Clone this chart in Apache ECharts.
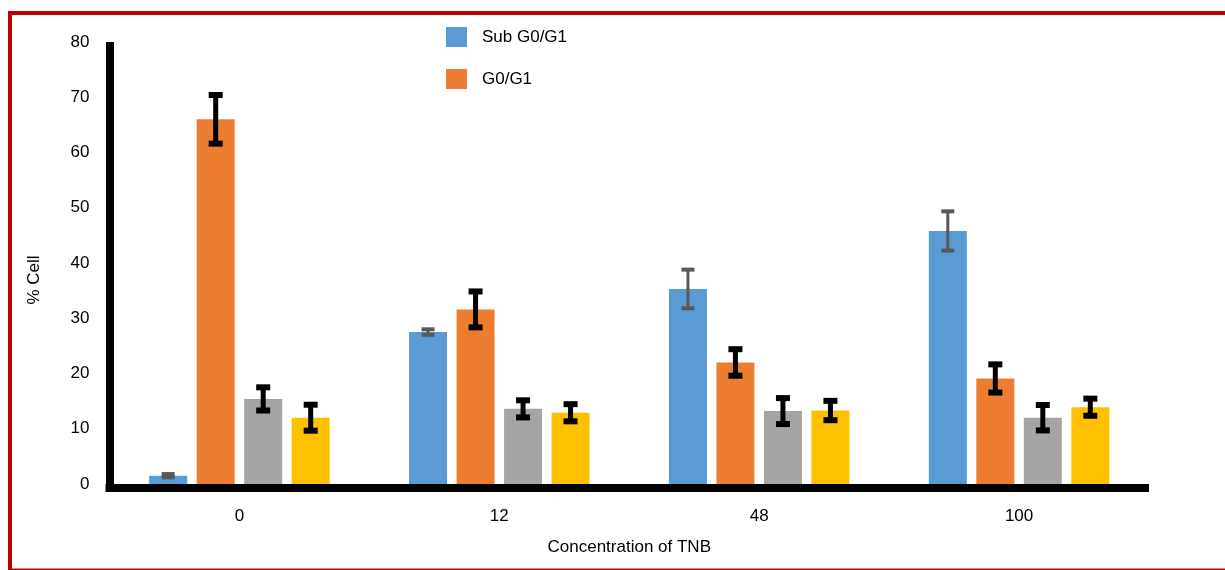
<!DOCTYPE html>
<html>
<head>
<meta charset="utf-8">
<script src="https://cdn.jsdelivr.net/npm/echarts@6/dist/echarts.min.js"></script>
<style>
html,body{margin:0;padding:0;background:#fff;}
#chart{width:1225px;height:570px;}
</style>
</head>
<body>
<div id="chart"></div>
<script>
// ---- data ----
const categories = ['0', '12', '48', '100'];
const seriesNames = ['Sub G0/G1', 'G0/G1', 'S', 'G2/M'];
const subG0G1 = [1.5, 27.5, 35.3, 45.8];
const subG0G1Err = [0.3, 0.5, 3.5, 3.55];
const g0G1 = [66.0, 31.6, 22.0, 19.1];
const g0G1Err = [4.4, 3.25, 2.4, 2.55];
const sPhase = [15.4, 13.6, 13.2, 12.0];
const sPhaseErr = [2.1, 1.55, 2.35, 2.3];
const g2M = [12.0, 12.9, 13.3, 13.9];
const g2MErr = [2.35, 1.55, 1.75, 1.55];
const yTicks = { min: 0, max: 80, interval: 10 };

// ---- style ----
const FONT = 'Liberation Sans, Arial, sans-serif';
const colors = ['#5B9BD5', '#ED7D31', '#A5A5A5', '#FFC000'];
const BAR_W = 38;
const BAR_GAP = 0.25;
const STEP = BAR_W * (1 + BAR_GAP);

const values = [subG0G1, g0G1, sPhase, g2M];
const errs = [subG0G1Err, g0G1Err, sPhaseErr, g2MErr];
const errStyle = [
  { color: '#595959', lw: 3, capW: 13, capH: 4 },
  { color: '#000000', lw: 5, capW: 14, capH: 6 },
  { color: '#000000', lw: 5, capW: 14, capH: 6 },
  { color: '#000000', lw: 5, capW: 14, capH: 6 }
];

const series = [];
values.forEach((vals, si) => {
  series.push({
    name: seriesNames[si],
    type: 'bar',
    data: vals,
    barWidth: BAR_W,
    barGap: (BAR_GAP * 100) + '%',
    itemStyle: { color: colors[si] },
    z: 2
  });
});
values.forEach((vals, si) => {
  const st = errStyle[si];
  series.push({
    type: 'custom',
    name: seriesNames[si] + ' err',
    silent: true,
    z: 5,
    data: vals.map((v, i) => [i, v, errs[si][i]]),
    renderItem: function (params, api) {
      const c = api.value(0), v = api.value(1), e = api.value(2);
      const hi = api.coord([c, v + e]);
      const lo = api.coord([c, v - e]);
      const x = hi[0] + (si - 1.5) * STEP;
      return {
        type: 'group',
        children: [
          { type: 'line', shape: { x1: x, y1: hi[1], x2: x, y2: lo[1] }, style: { stroke: st.color, lineWidth: st.lw } },
          { type: 'rect', shape: { x: x - st.capW / 2, y: hi[1] - st.capH / 2, width: st.capW, height: st.capH }, style: { fill: st.color } },
          { type: 'rect', shape: { x: x - st.capW / 2, y: lo[1] - st.capH / 2, width: st.capW, height: st.capH }, style: { fill: st.color } }
        ]
      };
    }
  });
});

const chart = echarts.init(document.getElementById('chart'), null, { renderer: 'canvas' });
chart.setOption({
  animation: false,
  backgroundColor: '#ffffff',
  textStyle: { fontFamily: FONT },
  graphic: [{
    type: 'rect',
    shape: { x: 10, y: 13, width: 1240, height: 557.5 },
    style: { fill: 'none', stroke: '#C00000', lineWidth: 4 },
    z: 0
  }],
  legend: {
    data: [seriesNames[0], seriesNames[1]],
    orient: 'vertical',
    left: 446,
    top: 27,
    padding: 0,
    itemWidth: 21,
    itemHeight: 20,
    itemGap: 22,
    icon: 'rect',
    textStyle: { fontSize: 17, color: '#000', fontFamily: FONT, padding: [0, 0, 0, 10] }
  },
  grid: { left: 109.5, right: 76, top: 42, bottom: 86, containLabel: false },
  xAxis: {
    type: 'category',
    data: categories,
    offset: 4,
    axisLine: { onZero: false, lineStyle: { color: '#000', width: 8, cap: 'butt' } },
    axisTick: { show: false },
    axisLabel: { fontSize: 17, color: '#000', margin: 19.5, fontFamily: FONT },
    name: 'Concentration of TNB',
    nameLocation: 'middle',
    nameGap: 50.5,
    nameTextStyle: { fontSize: 17, color: '#000', fontFamily: FONT }
  },
  yAxis: {
    type: 'value',
    min: yTicks.min,
    max: yTicks.max,
    interval: yTicks.interval,
    axisLine: {
      show: true,
      symbol: ['rect', 'none'],
      symbolSize: [8, 8],
      symbolOffset: [-4, 0],
      lineStyle: { color: '#000', width: 8, cap: 'butt' }
    },
    axisTick: { show: false },
    splitLine: { show: false },
    axisLabel: { fontSize: 17, color: '#000', margin: 20, fontFamily: FONT },
    name: '% Cell',
    nameLocation: 'middle',
    nameGap: 67,
    nameTextStyle: { fontSize: 17, color: '#000', fontFamily: FONT, padding: [0, 34, 0, 0] }
  },
  series: series
});
</script>
</body>
</html>
